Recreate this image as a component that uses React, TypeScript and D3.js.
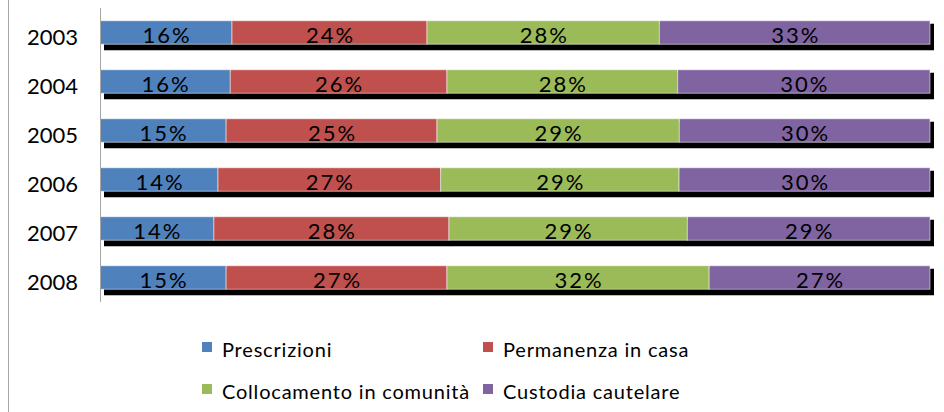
import React, { useRef, useEffect } from 'react';
import * as d3 from 'd3';

// anni e serie (percentuali)
const years = ['2003', '2004', '2005', '2006', '2007', '2008'];
const seriesNames = ['Prescrizioni', 'Permanenza in casa', 'Collocamento in comunità', 'Custodia cautelare'];
const seriesColors = ['#4F81BD', '#C0504D', '#9BBB59', '#8064A2'];
const prescrizioni = [15.9, 15.7, 15.2, 14.2, 13.7, 15.2];
const permanenza = [23.5, 26.1, 25.4, 26.8, 28.3, 26.6];
const collocamento = [28.0, 27.8, 29.2, 28.7, 28.7, 31.6];
const custodia = [32.6, 30.4, 30.2, 30.2, 29.2, 26.6];

const W = 944;
const H = 412;

const App = () => {
    const svgRef = useRef<SVGSVGElement>(null);

    useEffect(() => {
        const svg = d3.select(svgRef.current);
        svg.selectAll('*').remove();

        const rows = years.map((y, i) => ({
            year: y,
            s0: prescrizioni[i],
            s1: permanenza[i],
            s2: collocamento[i],
            s3: custodia[i],
        }));
        const keys = ['s0', 's1', 's2', 's3'];
        const stacked = d3.stack<any>().keys(keys).offset(d3.stackOffsetExpand)(rows);

        const x = d3.scaleLinear().domain([0, 1]).range([100, 930]);
        const y = d3.scaleBand()
            .domain(years)
            .range([8, 302])
            .paddingInner(0.52)
            .paddingOuter(0.26);

        const font = 'Lato, "Open Sans", sans-serif';

        // bordo sinistro del riquadro
        svg.append('line')
            .attr('x1', 8.5).attr('x2', 8.5)
            .attr('y1', 0).attr('y2', H)
            .attr('stroke', '#a6a6a6');

        // ombre nere sotto le barre
        svg.append('g')
            .selectAll('rect')
            .data(years)
            .join('rect')
            .attr('x', x(0) + 4)
            .attr('y', d => (y(d) as number) + 3)
            .attr('width', x(1) - x(0))
            .attr('height', y.bandwidth() + 3)
            .attr('fill', '#000');

        // segmenti
        const groups = svg.append('g')
            .selectAll('g')
            .data(stacked)
            .join('g')
            .attr('fill', (d, i) => seriesColors[i]);

        groups.selectAll('rect')
            .data(d => d)
            .join('rect')
            .attr('x', d => x(d[0]))
            .attr('y', d => y(d.data.year) as number)
            .attr('width', d => x(d[1]) - x(d[0]))
            .attr('height', y.bandwidth())
            .attr('stroke', 'rgba(255,255,255,0.55)')
            .attr('stroke-width', 1);

        // etichette percentuali
        groups.selectAll('text')
            .data(d => d)
            .join('text')
            .attr('x', d => (x(d[0]) + x(d[1])) / 2 + 1)
            .attr('y', d => (y(d.data.year) as number) + y.bandwidth() - 1)
            .attr('text-anchor', 'middle')
            .attr('font-family', font)
            .attr('font-size', 22)
            .attr('letter-spacing', 2)
            .attr('fill', '#000')
            .text(d => `${Math.round((d[1] - d[0]) * 100)}%`);

        // asse verticale
        svg.append('line')
            .attr('x1', 100.5).attr('x2', 100.5)
            .attr('y1', 8).attr('y2', 302)
            .attr('stroke', '#a6a6a6');

        // etichette anni
        svg.append('g')
            .selectAll('text')
            .data(years)
            .join('text')
            .attr('x', 78)
            .attr('y', d => (y(d) as number) + y.bandwidth() + 0.5)
            .attr('text-anchor', 'end')
            .attr('font-family', font)
            .attr('font-size', 22)
            .attr('fill', '#000')
            .text(d => d);

        // legenda
        const legendPos = [[202, 342], [483, 342], [202, 384], [483, 384]];
        const legend = svg.append('g')
            .selectAll('g')
            .data(seriesNames)
            .join('g')
            .attr('transform', (d, i) => `translate(${legendPos[i][0]},${legendPos[i][1]})`);

        legend.append('rect')
            .attr('width', 10)
            .attr('height', 10)
            .attr('fill', (d, i) => seriesColors[i]);

        legend.append('text')
            .attr('x', 20)
            .attr('y', 15)
            .attr('font-family', font)
            .attr('font-size', 20)
            .attr('letter-spacing', 0.8)
            .attr('fill', '#000')
            .text(d => d);
    }, []);

    return (
        <svg
            ref={svgRef}
            width={W}
            height={H}
            style={{ position: 'absolute', left: 0, top: 0, background: '#fff' }}
        ></svg>
    );
};

export default App;
